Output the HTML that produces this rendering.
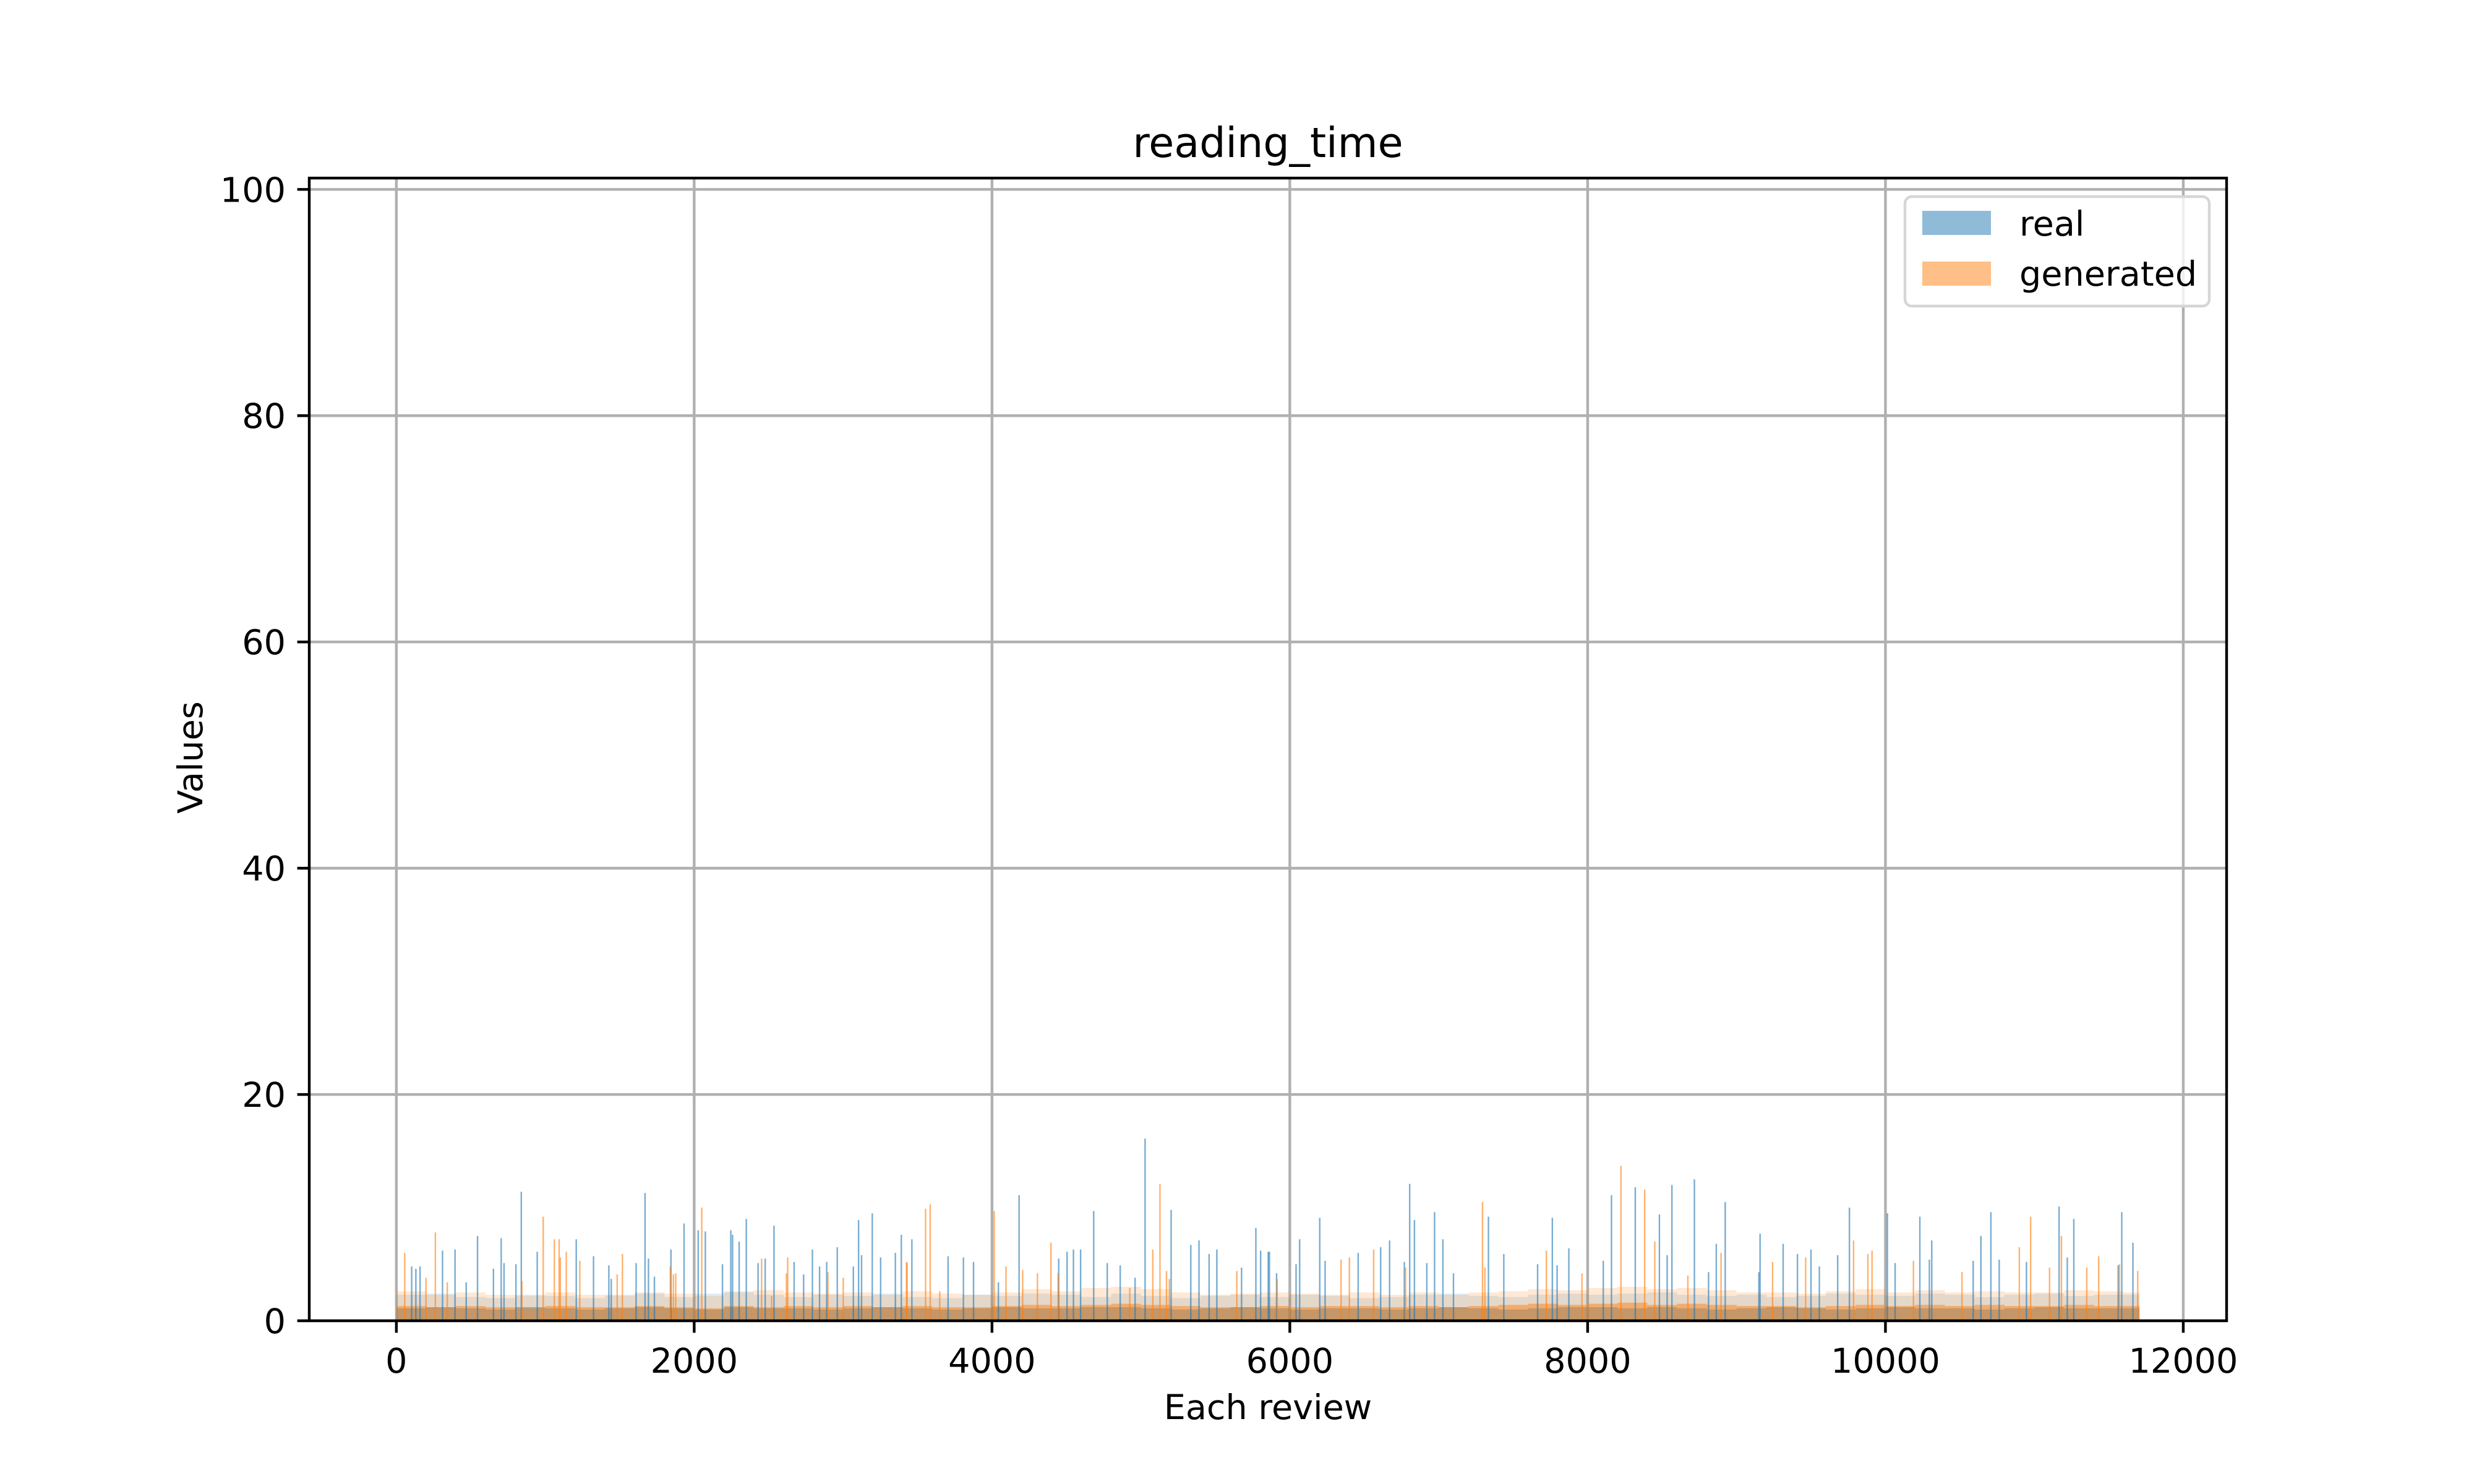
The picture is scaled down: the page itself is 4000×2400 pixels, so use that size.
<!DOCTYPE html>
<html><head><meta charset="utf-8"><style>
html,body{margin:0;padding:0;background:#fff;}
svg{display:block;font-family:"DejaVu Sans","Liberation Sans",sans-serif;}
</style></head><body>
<svg id="chart" width="4000" height="2400" viewBox="0 0 4000 2400" xmlns="http://www.w3.org/2000/svg">
<rect x="0" y="0" width="4000" height="2400" fill="#fff"/>
<g id="grid"></g>
<g id="bars"></g>
<g id="axes"></g>
<text x="2050" y="254" font-size="66.7" text-anchor="middle">reading_time</text>
<text x="2050" y="2295" font-size="55.6" text-anchor="middle">Each review</text>
<text x="0" y="0" font-size="55.6" text-anchor="middle" transform="translate(327,1225) rotate(-90)">Values</text>
<g>
<rect x="3080" y="318" width="492" height="177" rx="11" fill="#fff" fill-opacity="0.8" stroke="#d6d6d6" stroke-width="4.4"/>
<rect x="3108" y="341" width="111" height="39" fill="#1f77b4" fill-opacity="0.5"/>
<text x="3265" y="381" font-size="55.6">real</text>
<rect x="3108" y="423" width="111" height="39" fill="#ff7f0e" fill-opacity="0.5"/>
<text x="3265" y="462" font-size="55.6">generated</text>
</g>
</svg>
<script>
// ---- data ----
const bucketSize = 200;
const realCore = [1.1,1.2,1.1,1.0,1.2,1.1,1.0,1.1,1.2,1.1,1.0,1.2,1.1,1.1,1.0,1.1,1.2,1.1,1.0,1.1,1.2,1.1,1.1,1.2,1.2,1.1,1.0,1.1,1.2,1.1,1.0,1.1,1.1,1.0,1.1,1.2,1.1,1.0,1.1,1.2,1.2,1.1,1.2,1.1,1.0,1.1,1.2,1.1,1.0,1.1,1.2,1.1,1.1,1.0,1.1,1.2,1.1,1.1,1.1];
const genCore  = [1.3,1.2,1.3,1.2,1.1,1.3,1.2,1.2,1.3,1.2,1.1,1.3,1.2,1.3,1.2,1.3,1.2,1.3,1.2,1.2,1.3,1.4,1.3,1.4,1.5,1.4,1.3,1.2,1.2,1.3,1.2,1.3,1.3,1.2,1.3,1.2,1.3,1.4,1.5,1.4,1.5,1.6,1.4,1.5,1.4,1.3,1.3,1.2,1.3,1.4,1.3,1.4,1.3,1.4,1.3,1.3,1.4,1.3,1.3];
const realHigh = [2.3,2.4,2.1,2.0,2.3,2.2,2.0,2.3,2.4,2.1,2.4,2.6,2.3,2.1,2.3,2.2,2.4,2.1,2.0,2.3,2.2,2.4,2.3,2.1,2.4,2.2,2.0,2.2,2.3,2.1,2.3,2.2,2.0,2.1,2.3,2.4,2.2,2.1,2.3,2.4,2.3,2.4,2.5,2.3,2.2,2.3,2.1,2.2,2.4,2.3,2.2,2.4,2.3,2.1,2.3,2.4,2.2,2.3,2.3];
const genHigh  = [2.6,2.3,2.5,2.3,2.2,2.5,2.3,2.2,2.5,2.4,2.2,2.5,2.7,2.5,2.4,2.5,2.3,2.6,2.4,2.3,2.5,2.8,2.6,2.9,3.0,2.8,2.5,2.3,2.4,2.5,2.4,2.3,2.5,2.3,2.5,2.3,2.5,2.6,2.8,2.7,2.9,3.0,2.8,2.9,2.7,2.5,2.5,2.4,2.6,2.8,2.5,2.7,2.5,2.6,2.5,2.5,2.7,2.6,2.5];
const realSpikeIdx = [310,394,545,704,839,946,1208,1324,1670,1693,1932,2027,2075,2246,2258,2302,2350,2536,2794,2961,3104,3196,3391,3462,4182,4504,4595,4683,5028,5203,5335,5390,5510,5772,5804,5863,5855,6066,6201,6237,6610,6670,6805,6837,6972,7028,7334,7763,7874,8160,8320,8482,8566,8717,8924,9158,9313,9758,10013,10231,10311,10641,10708,11166,11265,11587,11662,
 103,131,159,469,652,723,803,1427,1443,1610,1733,1844,2190,2429,2477,2671,2735,2842,2890,3069,3124,3252,3351,3705,3808,3876,4043,4448,4547,4774,4861,4961,5458,5676,5911,
 6042,6459,6769,6920,7099,7437,7664,7795,8105,8534,8812,8864,9150,9409,9500,9556,9679,10065,10295,10589,10764,10947,11221,11563];
const realSpikeVal = [6.2,6.3,7.5,7.3,11.4,6.1,7.2,5.7,11.3,5.5,8.6,8.0,7.9,8.0,7.6,7.0,9.0,8.4,6.3,6.5,8.9,9.5,7.6,7.2,11.1,6.1,6.3,9.7,16.1,9.8,6.7,7.1,6.3,8.2,6.2,6.1,6.1,7.2,9.1,5.3,6.5,7.1,12.1,8.9,9.6,7.2,9.2,9.1,6.4,11.1,11.8,9.4,12.0,12.5,10.5,7.7,6.8,10.0,9.5,9.2,7.1,7.5,9.6,10.1,9.0,9.6,6.9,
 4.8,4.6,4.8,3.4,4.6,5.1,5.0,4.9,3.7,5.1,3.9,6.3,5.0,5.1,5.5,5.2,4.1,4.8,5.2,4.8,5.8,5.6,6.0,5.7,5.6,5.2,3.4,5.5,6.3,5.1,4.9,3.8,5.9,4.7,4.2,
 5.0,6.0,5.2,5.1,4.2,5.9,5.0,4.9,5.3,5.8,4.3,6.8,4.3,5.9,6.3,4.8,5.8,5.1,5.4,5.3,5.4,5.2,5.6,4.9];
const genSpikeIdx = [56,262,986,1061,1093,1232,1518,2051,2628,3426,3554,3585,4015,4094,4396,5128,5172,6563,7294,8224,8383,8451,9242,9786,9910,10975,11182,11432,11571,
 199,342,843,1101,1141,1483,1840,1860,1876,2453,2520,2620,2898,3001,3430,3649,4206,4305,4444,4925,5080,5191,5644,
 5915,6344,6400,6777,7310,7723,7962,8673,8896,9464,9882,10188,10514,10899,11102,11352,11694];
const genSpikeVal = [6.0,7.8,9.2,7.2,7.2,5.3,5.9,10.0,5.6,5.2,9.9,10.3,9.7,4.8,6.9,12.1,4.4,6.3,10.5,13.7,11.6,7.0,5.2,7.1,6.2,9.2,7.5,5.7,5.0,
 3.8,3.4,3.5,5.6,6.1,4.1,4.8,4.1,4.2,5.5,2.2,4.2,4.3,3.8,5.1,2.6,4.5,4.2,4.2,2.9,6.3,3.7,4.4,
 3.7,5.4,5.6,4.7,4.7,6.2,4.2,4.0,6.0,5.6,5.9,5.3,4.3,6.5,4.7,4.7,4.4];
const nReviews = 11706;
const xTicks = [0,2000,4000,6000,8000,10000,12000];
const yTicks = [0,20,40,60,80,100];

// ---- axes ----
const AX = {l:500, r:3600, t:288, b:2136};
const xMin = -585, xMax = 12291, yMin = 0, yMax = 101;
const sx = v => AX.l + (v - xMin) / (xMax - xMin) * (AX.r - AX.l);
const sy = v => AX.b - (v - yMin) / (yMax - yMin) * (AX.b - AX.t);
const NS = 'http://www.w3.org/2000/svg';
function mk(tag, attrs, parent){const e=document.createElementNS(NS,tag);for(const k in attrs)e.setAttribute(k,attrs[k]);parent.appendChild(e);return e;}
const grid = document.getElementById('grid'), bars = document.getElementById('bars'), axes = document.getElementById('axes');

xTicks.forEach(t=>{
  const g = mk('line',{x1:sx(t),x2:sx(t),y1:AX.t,y2:AX.b,stroke:'#b0b0b0','stroke-width':4.4},grid);
  
  
  const tk = mk('line',{x1:sx(t),x2:sx(t),y1:AX.b,y2:AX.b+19.4,stroke:'#000','stroke-width':4.4},axes);
  
  
  const tx = mk('text',{x:sx(t),y:2220,'font-size':55.6,'text-anchor':'middle'},axes);
  tx.textContent = t;
  
  
});
yTicks.forEach(t=>{
  const g = mk('line',{x1:AX.l,x2:AX.r,y1:sy(t),y2:sy(t),stroke:'#b0b0b0','stroke-width':4.4},grid);
  
  
  const tk = mk('line',{x1:AX.l-19.4,x2:AX.l,y1:sy(t),y2:sy(t),stroke:'#000','stroke-width':4.4},axes);
  
  
  const tx = mk('text',{x:AX.l-38,y:sy(t)+20,'font-size':55.6,'text-anchor':'end'},axes);
  tx.textContent = t;
  
  
});
const frame = mk('rect',{x:AX.l,y:AX.t,width:AX.r-AX.l,height:AX.b-AX.t,fill:'none',stroke:'#000','stroke-width':4.4},axes);



// ---- bars ----
function band(arr, color, op, name){
  arr.forEach((v,i)=>{
    const x0 = i*bucketSize, x1 = Math.min((i+1)*bucketSize, nReviews);
    if (x0 >= nReviews) return;
    const r = mk('rect',{x:sx(x0),y:sy(v),width:sx(x1)-sx(x0),height:sy(0)-sy(v),fill:color,'fill-opacity':op},bars);
    
    
  });
}
band(realHigh,'#1f77b4',0.14,'real-band-high');
band(genHigh,'#ff7f0e',0.18,'generated-band-high');
band(realCore,'#1f77b4',0.45,'real-band-core');
band(genCore,'#ff7f0e',0.5,'generated-band-core');
function spikes(idx, vals, color, name){
  idx.forEach((ix,i)=>{
    const v = vals[i];
    const r = mk('rect',{x:sx(ix)-1.2,y:sy(v),width:2.4,height:sy(0)-sy(v),fill:color,'fill-opacity':0.6},bars);
    
    
  });
}
spikes(realSpikeIdx, realSpikeVal, '#1f77b4', 'real-bar');
spikes(genSpikeIdx, genSpikeVal, '#ff7f0e', 'generated-bar');
</script>
</body></html>
